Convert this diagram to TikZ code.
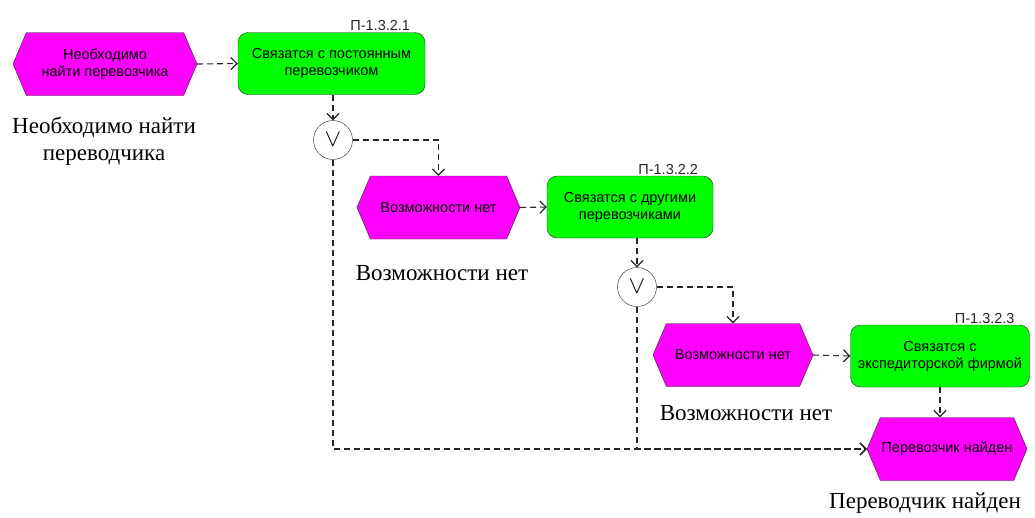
\documentclass[tikz,border=0pt]{standalone}
\usepackage{fontspec}
\setmainfont{Liberation Serif}
\setsansfont{Liberation Sans}
\usepackage{tikz}
\usetikzlibrary{shapes.symbols}
\usetikzlibrary{arrows.meta}
\definecolor{evmag}{HTML}{FF00FF}
\definecolor{fngreen}{HTML}{00FF00}
\definecolor{lineg}{HTML}{262626}
\tikzstyle{event}=[draw=lineg,fill=evmag,signal,signal to=west and east,signal pointer angle=134,minimum height=63pt,inner sep=0pt,align=center,font=\sffamily\fontsize{14.5}{17}\selectfont]
\tikzstyle{func}=[draw=lineg,fill=fngreen,rounded corners=10pt,minimum height=62pt,inner sep=0pt,align=center,font=\sffamily\fontsize{14.5}{17}\selectfont]
\tikzstyle{conn}=[draw=lineg,circle,minimum size=39pt,inner sep=0pt,font=\fontsize{30}{30}\selectfont]
\tikzstyle{code}=[anchor=south east,inner sep=1pt,xshift=-14pt,text=lineg,font=\sffamily\fontsize{14.5}{16}\selectfont]
\tikzstyle{note}=[align=center,inner sep=0pt,font=\fontsize{23}{27}\selectfont]
\tikzstyle{flow}=[draw=lineg,line width=1.1pt,dash pattern=on 6pt off 4pt,-{Straight Barb[length=6pt,width=12pt,line width=1.2pt]}]

\begin{document}
\begin{tikzpicture}[x=1pt,y=-1pt]
      \useasboundingbox (0,0) rectangle (1035,517);
      % functions with their codes
      \foreach \i/\x/\y/\w/\txt in {1/331.5/63.5/187/{Связатся с постоянным\\перевозчиком},
                                   2/630/207/166/{Связатся с другими\\перевозчиками},
                                   3/940/356/179/{Связатся с\\экспедиторской фирмой}}{
        \node[func,minimum width=\w pt] (f\i) at (\x,\y) {\txt};
        \node[code] at (f\i.north east) {П-1.3.2.\i};
      }

      % events
      \node[event,minimum width=184pt] (e1) at (105,64) {Необходимо\\найти перевозчика};
      \node[event,minimum width=163pt] (e2) at (438.5,207.5) {Возможности нет};
      \node[event,minimum width=160pt] (e3) at (733,355) {Возможности нет};
      \node[event,minimum width=160pt] (e4) at (947,449) {Перевозчик найден};

      % or-connectors
      \node[conn] (o1) at (333,140) {$\vee$};
      \node[conn] (o2) at (637,287) {$\vee$};

      % captions
      \node[note] (n1) at (104,141) {Необходимо найти\\переводчика};
      \node[note] (n2) at (442,273) {Возможности нет};
      \node[note] (n3) at (746,413) {Возможности нет};
      \node[note] (n4) at (925,503) {Переводчик найден};

      \draw[flow] (e1.east) -- (f1.west);
      \draw[flow] (o1.north |- f1.south) -- (o1.north);
      \draw[flow] (o1.east) -| (e2.north);
      \draw[flow] (e2.east) -- (f2.west);
      \draw[flow] (o2.north |- f2.south) -- (o2.north);
      \draw[flow] (o2.east) -| (e3.north);
      \draw[flow] (e3.east) -- (f3.west);
      \draw[flow] (f3.south) -- (f3.south |- e4.north);
      \draw[flow] (o1.south) |- (e4.west);
      \draw[flow] (o2.south) |- (e4.west);
    \end{tikzpicture}
\end{document}
